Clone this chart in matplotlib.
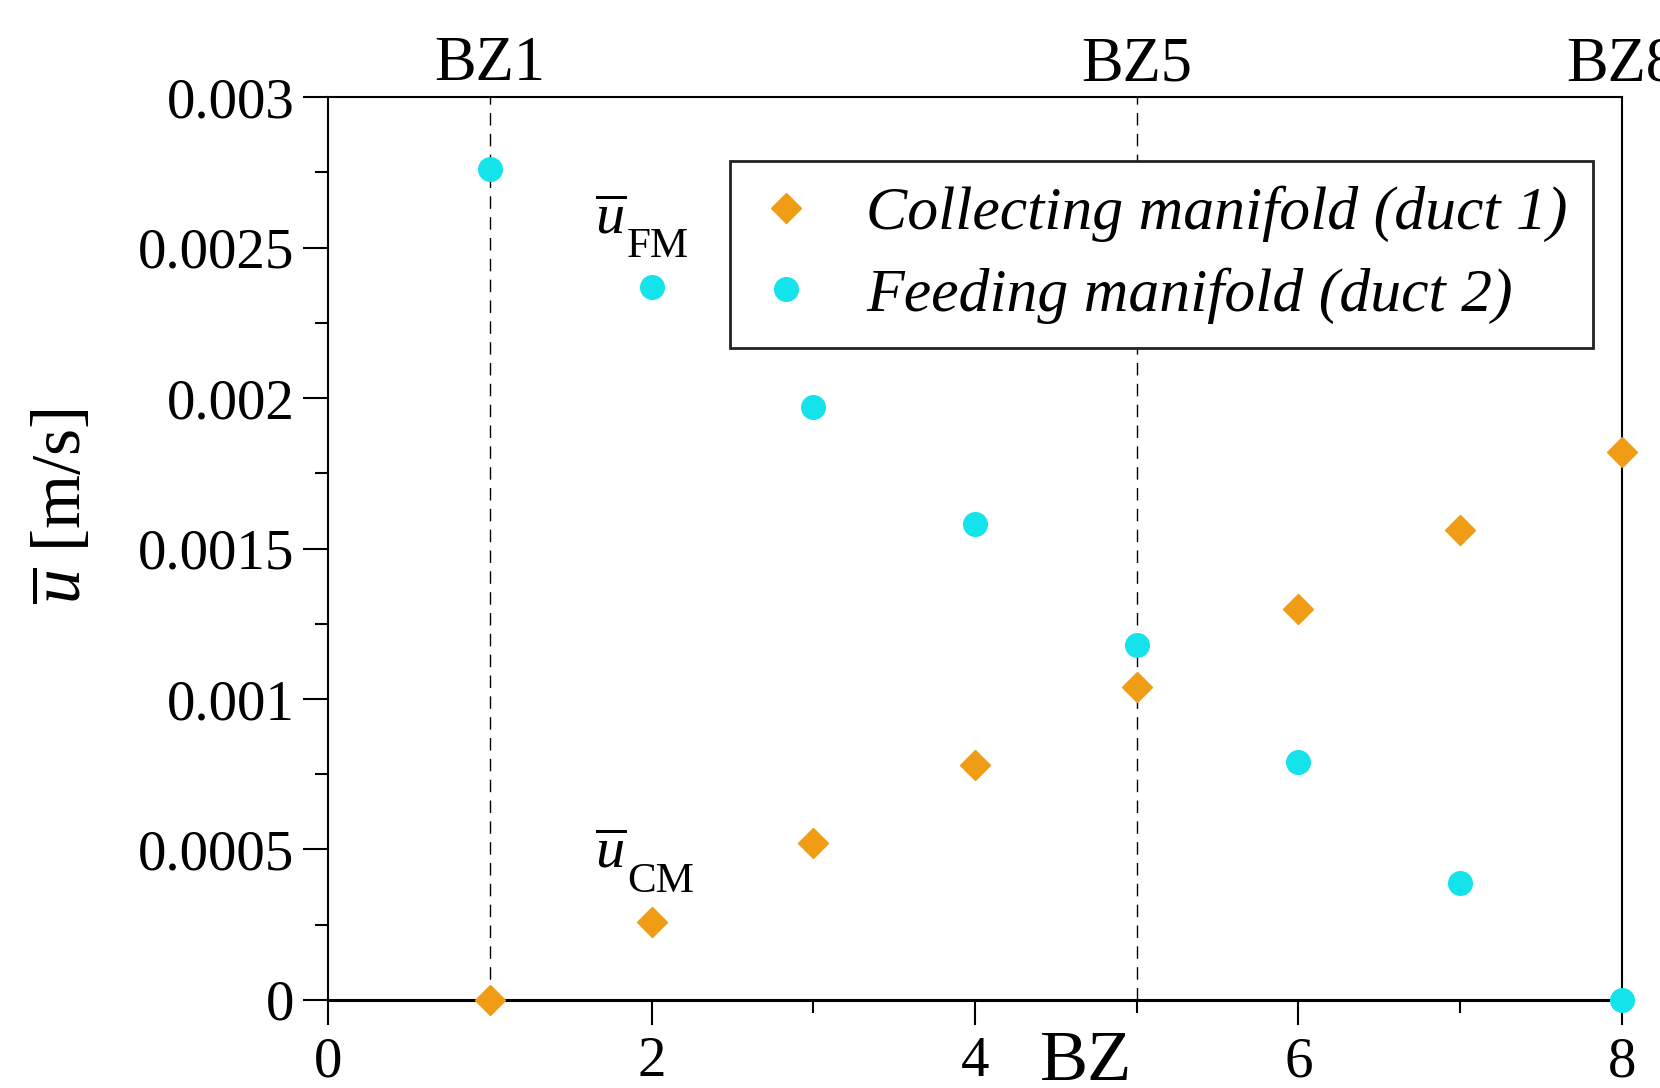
import matplotlib
matplotlib.use('Agg')
import matplotlib.pyplot as plt
from matplotlib.ticker import FixedLocator, FixedFormatter

plt.rcParams['font.family'] = ['Liberation Serif', 'DejaVu Serif']
plt.rcParams['mathtext.fontset'] = 'custom'
plt.rcParams['mathtext.rm'] = 'Liberation Serif'
plt.rcParams['mathtext.it'] = 'Liberation Serif:italic'

# data
bz = [1, 2, 3, 4, 5, 6, 7, 8]
uCollecting = [0.0, 0.00026, 0.00052, 0.00078, 0.00104, 0.0013, 0.00156, 0.00182]
uFeeding = [0.00276, 0.00237, 0.00197, 0.00158, 0.00118, 0.00079, 0.00039, 0.0]

xTicks = [0, 2, 4, 6, 8]
xMinor = [1, 3, 5, 7]
yTicks = [0, 0.0005, 0.001, 0.0015, 0.002, 0.0025, 0.003]
yTickLabels = ['0', '0.0005', '0.001', '0.0015', '0.002', '0.0025', '0.003']
yMinor = [0.00025, 0.00075, 0.00125, 0.00175, 0.00225, 0.00275]
topTicks = [1, 5, 8]
topLabels = ['BZ1', 'BZ5', 'BZ8']
zoneLines = [1, 5]

labCollecting = 'Collecting manifold (duct 1)'
labFeeding = 'Feeding manifold (duct 2)'

orange = '#f09c14'
cyan = '#14e3ec'

fig = plt.figure(figsize=(16.6, 10.88), dpi=100)
ax = fig.add_subplot(111)
fig.subplots_adjust(left=0.1976, right=0.9771, top=0.9108, bottom=0.0809)

for xz in zoneLines:
    ax.axvline(xz, color='black', lw=1.0, dashes=(9, 6), zorder=1)

ax.plot(bz, uCollecting, ls='none', marker='D', ms=15.5, color=orange,
        mec=orange, label=labCollecting, clip_on=False, zorder=3)
ax.plot(bz, uFeeding, ls='none', marker='o', ms=17, color=cyan,
        mec=cyan, label=labFeeding, clip_on=False, zorder=3)

ax.set_xlim(0, 8)
ax.set_ylim(0, 0.003)

ax.xaxis.set_major_locator(FixedLocator(xTicks))
ax.xaxis.set_minor_locator(FixedLocator(xMinor))
ax.yaxis.set_major_locator(FixedLocator(yTicks))
ax.yaxis.set_major_formatter(FixedFormatter(yTickLabels))
ax.yaxis.set_minor_locator(FixedLocator(yMinor))

ax.tick_params(which='major', direction='out', length=18, width=1.5,
               labelsize=41, pad=6, top=False, right=False)
ax.tick_params(which='minor', direction='out', length=9.5, width=1.5,
               top=False, right=False)
ax.tick_params(axis='x', which='major', pad=8)

for side in ['left', 'right', 'top']:
    ax.spines[side].set_linewidth(1.5)
ax.spines['bottom'].set_linewidth(2.2)

secax = ax.secondary_xaxis('top')
secax.xaxis.set_major_locator(FixedLocator(topTicks))
secax.xaxis.set_major_formatter(FixedFormatter(topLabels))
secax.tick_params(length=0, labelsize=45, pad=2)
secax.spines['top'].set_visible(False)

ax.set_ylabel(r'$\overline{u}$ [m/s]', fontsize=50)
ax.yaxis.label.set_va('center')
ax.yaxis.set_label_coords(-0.204, 0.547)

ax.set_xlabel('BZ', fontsize=52)
ax.xaxis.label.set_va('baseline')
ax.xaxis.set_label_coords(0.586, -0.089)

# u-bar labels with large subscripts
ax.text(1.65, 0.002548, r'$\overline{u}$', fontsize=42, va='baseline')
ax.text(1.85, 0.002468, 'FM', fontsize=31, va='baseline')
ax.text(1.65, 0.000442, r'$\overline{u}$', fontsize=42, va='baseline')
ax.text(1.85, 0.000359, 'CM', fontsize=31, va='baseline')

leg = ax.legend(loc='upper left', bbox_to_anchor=(0.311, 0.929), borderaxespad=0,
                prop={'size': 44.5, 'style': 'italic'}, frameon=True, fancybox=False,
                framealpha=1, edgecolor='#222222', handlelength=1.0,
                handletextpad=0.8, borderpad=0.4, labelspacing=0.4, numpoints=1)
leg.get_frame().set_linewidth(2)

fig.savefig('out.png', dpi=100)
